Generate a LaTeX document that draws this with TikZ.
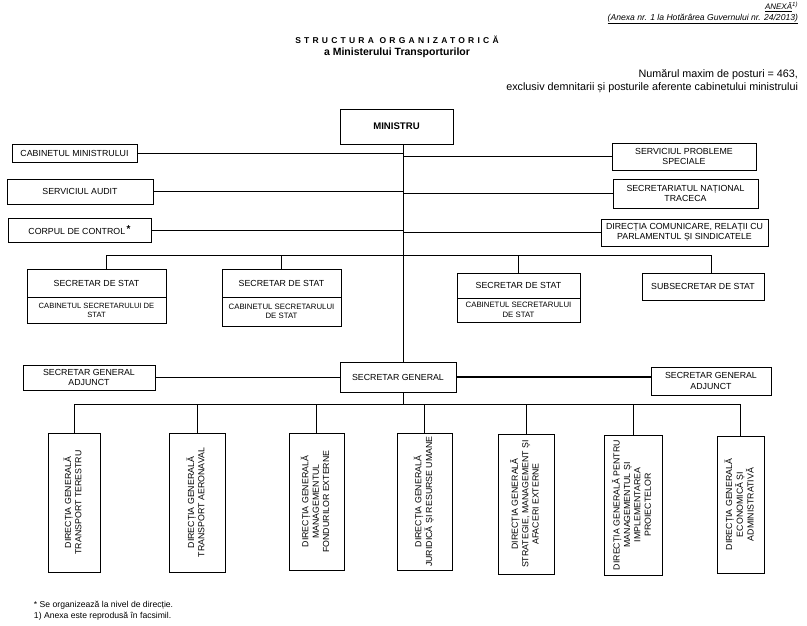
\documentclass[tikz,border=0pt]{standalone}
\usepackage{fontspec}
\usepackage{graphicx}
\setmainfont{Liberation Sans}
\newfontfamily\spacedfont[LetterSpace=38]{Liberation Sans}
\usetikzlibrary{positioning}
\newcommand{\vtext}[1]{\rotatebox{90}{\begin{tabular}{@{}c@{}}#1\end{tabular}}}
\begin{document}
\begin{tikzpicture}[x=1pt,y=-1pt,inner sep=1pt,outer sep=0pt,
font=\fontsize{8.8}{10.4}\selectfont,
orgbox/.style={draw,rectangle,line width=0.9pt,align=center,inner sep=1pt},
cabtext/.style={font=\fontsize{7.8}{9.4}\selectfont},
link/.style={line width=0.6pt},
txt/.style={inner sep=0pt}]
\useasboundingbox (0,0) rectangle (807,625);
% header
\node[txt,anchor=east,font=\fontsize{8}{9.5}\selectfont] (anexa) at (798,7) {\underline{\textit{ANEXĂ}}\textsuperscript{\textit{1)}}};
\node[txt,anchor=east,font=\fontsize{8.6}{10}\selectfont] (anexanr) at (798,19) {\underline{\textit{(Anexa nr. 1 la Hotărârea Guvernului nr. 24/2013)}}};
\node[txt,font=\spacedfont\bfseries\fontsize{8.5}{10}\selectfont] (title) at (397,40) {STRUCTURA ORGANIZATORICĂ};
\node[txt,font=\bfseries\fontsize{10.5}{12}\selectfont] (subtitle) at (397,53) {a Ministerului Transporturilor};
\node[txt,anchor=east,align=right,font=\fontsize{10.8}{13}\selectfont] (posturi) at (798,81.5) {Numărul maxim de posturi = 463,\\exclusiv demnitarii și posturile aferente cabinetului ministrului};
% minister level
\coordinate (spine) at (403,0);
\node[orgbox,minimum width=113,minimum height=35,font=\bfseries\fontsize{9.6}{11}\selectfont] (min) at (396.5,126.5) {MINISTRU};
\node[orgbox,minimum width=125,minimum height=18] (cab) at (74.5,153) {CABINETUL MINISTRULUI};
\node[orgbox,minimum width=146,minimum height=25] (audit) at (80,191.5) {SERVICIUL AUDIT};
\node[orgbox,minimum width=143,minimum height=24] (corp) at (79.5,230) {CORPUL DE CONTROL\,\raisebox{2.5pt}{\bfseries\fontsize{10}{10}\selectfont *}};
\node[orgbox,minimum width=144,minimum height=27] (sps) at (684,156.5) {SERVICIUL PROBLEME\\SPECIALE};
\node[orgbox,minimum width=145,minimum height=29] (traceca) at (685.5,193.5) {SECRETARIATUL NAȚIONAL\\TRACECA};
\node[orgbox,minimum width=167,minimum height=27] (dcom) at (684.5,232.5) {DIRECȚIA COMUNICARE, RELAȚII CU\\PARLAMENTUL ȘI SINDICATELE};
\draw[link] (cab.east) -- (cab.east -| spine);
\draw[link] (audit.east) -- (audit.east -| spine);
\draw[link] (corp.east) -- (corp.east -| spine);
\draw[link] (sps.west) -- (sps.west -| spine);
\draw[link] (traceca.west) -- (traceca.west -| spine);
\draw[link] (dcom.west) -- (dcom.west -| spine);
% secretari de stat
\node[orgbox,minimum width=139,minimum height=28] (ss1) at (96.5,283) {SECRETAR DE STAT};
\node[orgbox,cabtext,minimum width=139,minimum height=26,below=0pt of ss1,font=\fontsize{7.6}{9.2}\selectfont] (cs1) {CABINETUL SECRETARULUI DE\\STAT};
\node[orgbox,minimum width=119,minimum height=28] (ss2) at (281.5,283) {SECRETAR DE STAT};
\node[orgbox,cabtext,minimum width=119,minimum height=29,below=0pt of ss2] (cs2) {CABINETUL SECRETARULUI\\DE STAT};
\node[orgbox,minimum width=123,minimum height=25] (ss3) at (518.5,285.5) {SECRETAR DE STAT};
\node[orgbox,cabtext,minimum width=123,minimum height=24,below=0pt of ss3] (cs3) {CABINETUL SECRETARULUI\\DE STAT};
\node[orgbox,minimum width=122,minimum height=27] (subs) at (703,286.5) {SUBSECRETAR DE STAT};
\coordinate (sbus) at (0,255);
\coordinate (ss1top) at ([xshift=10]ss1.north);
\coordinate (substop) at ([xshift=8]subs.north);
\draw[link] (ss1top) -- (ss1top |- sbus) -- (substop |- sbus) -- (substop);
\draw[link] (ss2.north) -- (ss2.north |- sbus);
\draw[link] (ss3.north) -- (ss3.north |- sbus);
% secretar general
\node[orgbox,minimum width=132,minimum height=25] (sga1) at (89,377.5) {SECRETAR GENERAL\\ADJUNCT};
\node[orgbox,minimum width=116,minimum height=30] (sg) at (398,377) {SECRETAR GENERAL};
\node[orgbox,minimum width=120,minimum height=28] (sga2) at (711,381) {SECRETAR GENERAL\\ADJUNCT};
\draw[link] (spine |- min.south) -- (spine |- sg.north);
\draw[link] (sga1.east) -- (sga1.east -| sg.west);
\draw[line width=1.2pt] (sg.east) -- (sg.east -| sga2.west);
% directii generale
\node[orgbox,minimum width=52,minimum height=139] (dg1) at (74,502.5) {\vtext{DIRECȚIA GENERALĂ\\TRANSPORT TERESTRU}};
\node[orgbox,minimum width=56,minimum height=139] (dg2) at (197,502.5) {\vtext{DIRECȚIA GENERALĂ\\TRANSPORT AERONAVAL}};
\node[orgbox,minimum width=55,minimum height=137] (dg3) at (316.5,501.5) {\vtext{DIRECȚIA GENERALĂ\\MANAGEMENTUL\\FONDURILOR EXTERNE}};
\node[orgbox,minimum width=55,minimum height=137] (dg4) at (424.5,501.5) {\vtext{DIRECȚIA GENERALĂ\\JURIDICĂ ȘI RESURSE UMANE}};
\node[orgbox,minimum width=56,minimum height=140] (dg5) at (526,504) {\vtext{DIRECȚIA GENERALĂ\\STRATEGIE, MANAGEMENT ȘI\\AFACERI EXTERNE}};
\node[orgbox,minimum width=58,minimum height=140] (dg6) at (633,505) {\vtext{DIRECȚIA GENERALĂ PENTRU\\MANAGEMENTUL ȘI\\IMPLEMENTAREA\\PROIECTELOR}};
\node[orgbox,minimum width=47,minimum height=137] (dg7) at (740.5,504.5) {\vtext{DIRECȚIA GENERALĂ\\ECONOMICĂ ȘI\\ADMINISTRATIVĂ}};
\coordinate (dbus) at (0,404);
\draw[link] (spine |- sg.south) -- (spine |- dbus);
\draw[link] (dg1.north) -- (dg1.north |- dbus) -- (dg7.north |- dbus) -- (dg7.north);
\foreach \d in {dg2,dg3,dg4,dg5,dg6}
  \draw[link] (\d.north) -- (\d.north |- dbus);
% notes
\node[txt,anchor=west,font=\fontsize{8.6}{10}\selectfont] (note1) at (34,605) {* Se organizează la nivel de direcție.};
\node[txt,anchor=west,font=\fontsize{8.6}{10}\selectfont] (note2) at (34,616) {1) Anexa este reprodusă în facsimil.};
\end{tikzpicture}
\end{document}
